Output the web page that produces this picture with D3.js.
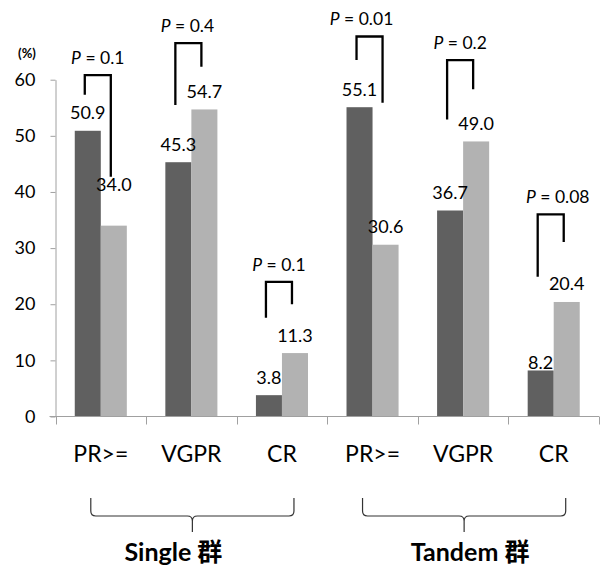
<!DOCTYPE html>
<html>
<head>
<meta charset="utf-8">
<script src="https://cdn.jsdelivr.net/npm/d3@7"></script>
<style>
  body { margin: 0; background: #fff; }
  text { font-family: Lato, "Noto Sans CJK JP", sans-serif; fill: #000; }
</style>
</head>
<body>
<div id="chart"></div>
<script>
// Data
const groups = ["Single 群", "Tandem 群"];
const categories = ["PR>=", "VGPR", "CR"];
const darkValues = [50.9, 45.3, 3.8, 55.1, 36.7, 8.2];
const lightValues = [34.0, 54.7, 11.3, 30.6, 49.0, 20.4];
const pValues = ["0.1", "0.4", "0.1", "0.01", "0.2", "0.08"];
const yTicks = [0, 10, 20, 30, 40, 50, 60];

// significance brackets, in % units: top bar, end of left leg, end of right leg
const bracketTop = [60.8, 66.5, 24.0, 67.7, 63.5, 36.0];
const bracketLeft = [57.3, 55.5, 17.6, 63.5, 52.9, 24.9];
const bracketRight = [42.7, 62.3, 20.0, 55.9, 58.3, 31.1];

// a couple of value labels were moved by hand in the original (null = default spot)
const darkLabelAt = [null, null, null, null, null, 8.4];
const lightLabelAt = [40.2, null, null, null, null, null];

// Set dimensions
const width = 601, height = 569;
const plotLeft = 55.5, plotRight = 599, plotTop = 79.7, plotBottom = 416.5;

const svg = d3.select("#chart")
  .append("svg")
  .attr("width", width)
  .attr("height", height);

const slots = groups.flatMap(g => categories.map(c => g + "|" + c));
const rows = slots.map((s, i) => ({
  slot: s,
  cat: categories[i % categories.length],
  dark: darkValues[i],
  light: lightValues[i],
  p: pValues[i],
  top: bracketTop[i],
  leftEnd: bracketLeft[i],
  rightEnd: bracketRight[i],
  darkAt: darkLabelAt[i],
  lightAt: lightLabelAt[i]
}));

// Scales
const x0 = d3.scaleBand()
  .domain(slots)
  .range([plotLeft, plotRight]);

const x1 = d3.scaleBand()
  .domain(["dark", "light"])
  .range([0, x0.bandwidth()])
  .paddingInner(0)
  .paddingOuter(0.74);

const y = d3.scaleLinear()
  .domain([0, 60])
  .range([plotBottom, plotTop]);

const colors = {dark: "#606060", light: "#b2b2b2"};
const axisColor = "#a0a0a0";

// Bars
const slotG = svg.selectAll(".slot")
  .data(rows)
  .join("g")
  .attr("class", "slot")
  .attr("transform", d => `translate(${x0(d.slot)},0)`);

slotG.selectAll("rect")
  .data(d => ["dark", "light"].map(k => ({key: k, value: d[k]})))
  .join("rect")
  .attr("x", d => x1(d.key))
  .attr("y", d => y(d.value))
  .attr("width", x1.bandwidth())
  .attr("height", d => y(0) - y(d.value))
  .attr("fill", d => colors[d.key]);

// Value labels
slotG.selectAll(".val")
  .data(d => ["dark", "light"].map(k => ({key: k, value: d[k], at: d[k + "At"]})))
  .join("text")
  .attr("class", "val")
  .attr("x", d => x1(d.key) + x1.bandwidth() / 2)
  .attr("y", d => d.at != null ? y(d.at) : y(d.value) - 11.5)
  .attr("text-anchor", "middle")
  .style("font-size", "18px")
  .text(d => d3.format(".1f")(d.value));

// Y axis
const yAxis = svg.append("g")
  .attr("transform", `translate(${plotLeft},0)`)
  .call(d3.axisLeft(y).tickValues(yTicks).tickSize(5).tickSizeOuter(0).tickPadding(14));
yAxis.select(".domain").attr("stroke", axisColor);
yAxis.selectAll(".tick line").attr("stroke", axisColor);
yAxis.selectAll(".tick text")
  .attr("x", -20)
  .attr("text-anchor", "end")
  .style("font-family", "Lato, sans-serif")
  .style("font-size", "18px")
  .attr("fill", "#000");

svg.append("text")
  .attr("x", 27)
  .attr("y", 58)
  .attr("text-anchor", "middle")
  .style("font-size", "13px")
  .style("font-weight", "bold")
  .text("(%)");

// X axis: line + ticks on the band edges
svg.append("line")
  .attr("x1", plotLeft - 6).attr("x2", plotRight)
  .attr("y1", plotBottom).attr("y2", plotBottom)
  .attr("stroke", axisColor);

const edges = slots.map(s => x0(s)).concat([x0.range()[1]]);
svg.selectAll(".xtick")
  .data(edges)
  .join("line")
  .attr("class", "xtick")
  .attr("x1", d => Math.round(d) + 0.5).attr("x2", d => Math.round(d) + 0.5)
  .attr("y1", plotBottom).attr("y2", plotBottom + 8)
  .attr("stroke", axisColor);

svg.selectAll(".cat")
  .data(rows)
  .join("text")
  .attr("class", "cat")
  .attr("x", d => x0(d.slot) + x0.bandwidth() / 2)
  .attr("y", 462)
  .attr("text-anchor", "middle")
  .style("font-size", "23px")
  .text(d => d.cat);

// Brackets with P values
const legShift = -3;
const pNudge = [0, -1, 0, -8, 0, 7];
const legL = () => x1("dark") + x1.bandwidth() / 2 + legShift;
const legR = () => x1("light") + x1.bandwidth() / 2 + legShift;

slotG.append("path")
  .attr("fill", "none")
  .attr("stroke", "#000")
  .attr("stroke-width", 2.3)
  .attr("d", d => `M${legL()},${y(d.leftEnd)}V${y(d.top)}H${legR()}V${y(d.rightEnd)}`);

const pText = slotG.append("text")
  .attr("x", (d, i) => (legL() + legR()) / 2 + pNudge[i])
  .attr("y", d => y(d.top) - 11)
  .attr("text-anchor", "middle")
  .style("font-size", "17.5px");
pText.append("tspan").style("font-style", "italic").text("P");
pText.append("tspan").text(d => " = " + d.p);

// Group braces and labels
const braceTop = 498, braceMid = 516, braceTip = 532;
const groupNudge = [-19, 6];

groups.forEach((g, gi) => {
  const first = x0(g + "|" + categories[0]) + x0.bandwidth() / 2 - 10;
  const last = x0(g + "|" + categories[categories.length - 1]) + x0.bandwidth() / 2 + 12;
  const mid = (first + last) / 2;
  const r = 5;
  svg.append("path")
    .attr("fill", "none")
    .attr("stroke", "#333")
    .attr("stroke-width", 1.2)
    .attr("d",
      `M${first},${braceTop}V${braceMid - r}Q${first},${braceMid} ${first + r},${braceMid}` +
      `H${mid - r}Q${mid},${braceMid} ${mid},${braceMid + r}V${braceTip}` +
      `M${mid},${braceMid + r}Q${mid},${braceMid} ${mid + r},${braceMid}` +
      `H${last - r}Q${last},${braceMid} ${last},${braceMid - r}V${braceTop}`);

  svg.append("text")
    .attr("x", mid + groupNudge[gi])
    .attr("y", 561)
    .attr("text-anchor", "middle")
    .style("font-size", "25px")
    .style("font-weight", "bold")
    .text(g);
});
</script>
</body>
</html>
